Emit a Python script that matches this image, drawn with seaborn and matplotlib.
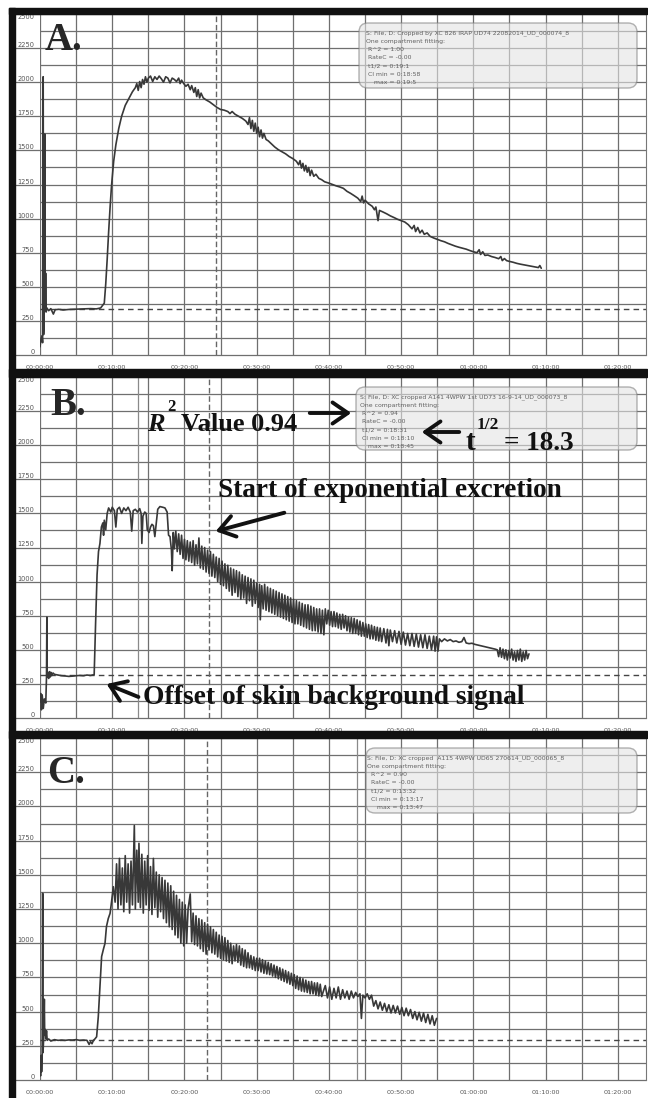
import numpy as np
import matplotlib
matplotlib.use("Agg")
import matplotlib.pyplot as plt
from matplotlib.patches import Rectangle, FancyBboxPatch, FancyArrowPatch
import seaborn as sns

# ---- data (minutes, signal) ----
a_time = [0.00, 0.15, 0.28, 0.36, 0.44, 0.50, 0.58, 0.66, 0.72, 0.78, 0.85, 0.95, 1.20, 1.50, 1.85, 2.10, 2.60,
          3.20, 4.00, 5.00, 6.00, 7.00, 7.80, 8.40, 8.90, 9.10, 9.30, 9.50, 9.70, 9.90, 10.20, 10.50, 10.90,
          11.30, 11.80, 12.30, 12.80, 13.20, 13.40, 13.60, 13.80, 14.00, 14.20, 14.40, 14.60, 14.80, 15.00,
          15.30, 15.60, 15.90, 16.20, 16.50, 16.80, 17.10, 17.40, 17.70, 18.00, 18.30, 18.60, 18.90, 19.20,
          19.40, 19.60, 19.90, 20.20, 20.50, 20.80, 21.00, 21.30, 21.50, 21.70, 21.90, 22.10, 22.30, 22.60,
          23.00, 23.50, 24.00, 24.50, 25.00, 25.50, 26.00, 26.30, 26.60, 27.00, 27.50, 28.00, 28.50, 28.80,
          29.00, 29.20, 29.40, 29.60, 29.80, 30.00, 30.20, 30.40, 30.60, 30.80, 31.00, 31.30, 31.60, 32.00,
          32.50, 33.00, 33.50, 34.00, 34.50, 35.00, 35.50, 35.80, 36.00, 36.20, 36.40, 36.60, 36.80, 37.00,
          37.20, 37.40, 37.60, 37.90, 38.20, 38.60, 39.00, 39.40, 40.00, 40.50, 41.00, 41.50, 42.00, 42.50,
          43.00, 43.50, 44.00, 44.40, 44.60, 44.80, 45.00, 45.50, 46.00, 46.30, 46.50, 46.80, 47.00, 47.50,
          48.00, 48.50, 49.00, 49.50, 50.00, 50.50, 51.00, 51.50, 51.80, 52.00, 52.30, 52.60, 52.90, 53.20,
          53.60, 54.00, 54.50, 55.00, 55.50, 56.00, 56.50, 57.00, 57.50, 58.00, 58.50, 59.00, 59.50, 60.00,
          60.50, 60.80, 61.00, 61.30, 61.60, 62.00, 62.50, 63.00, 63.50, 63.80, 64.00, 64.30, 64.60, 65.00,
          65.50, 66.00, 66.50, 67.00, 67.50, 68.00, 68.50, 69.00, 69.20, 69.40]
a_signal = [60, 120, 140, 90, 2040, 150, 310, 1620, 330, 600, 315, 345, 325, 340, 300, 332, 335,
            330, 334, 336, 338, 340, 338, 345, 380, 520, 700, 900, 1080, 1240, 1420, 1540, 1660,
            1750, 1830, 1880, 1930, 1960, 1990, 1940, 2005, 1960, 2020, 1985, 2040, 2000, 2030,
            2045, 2005, 2040, 2020, 2045, 2025, 2000, 2040, 2030, 1995, 2030, 2020, 2005, 2030,
            1990, 2015, 1990, 1970, 1985, 1945, 1975, 1925, 1960, 1895, 1945, 1885, 1920, 1885,
            1870, 1855, 1835, 1815, 1800, 1795, 1785, 1770, 1785, 1765, 1750, 1735, 1715, 1690,
            1740, 1660, 1720, 1640, 1700, 1625, 1670, 1600, 1650, 1590, 1625, 1580, 1570, 1550,
            1525, 1505, 1490, 1475, 1455, 1440, 1420, 1395, 1425, 1370, 1405, 1350, 1390, 1340,
            1375, 1315, 1355, 1310, 1325, 1295, 1285, 1270, 1260, 1250, 1240, 1232, 1222, 1200,
            1185, 1168, 1150, 1125, 1165, 1115, 1135, 1108, 1090, 1065, 1085, 985, 1060, 1048,
            1035, 1020, 1008, 995, 985, 975, 955, 925, 950, 905, 935, 895, 915, 885,
            895, 870, 858, 848, 838, 830, 818, 808, 798, 790, 783, 776, 766, 757,
            750, 772, 737, 757, 730, 733, 722, 715, 706, 722, 692, 707, 692, 686,
            680, 672, 666, 661, 656, 651, 646, 641, 656, 636]

b_time = [0.00, 0.10, 0.20, 0.30, 0.45, 0.60, 0.80, 0.90, 0.95, 1.00, 1.10, 1.20, 1.30, 1.40, 1.50, 1.60,
          1.80, 2.00, 2.50, 3.00, 3.50, 4.00, 4.50, 5.00, 5.50, 6.00, 6.50, 7.00, 7.50, 7.70, 7.90, 8.10,
          8.30, 8.50, 8.70, 8.80, 8.90, 9.10, 9.30, 9.50, 9.80, 10.00, 10.30, 10.50, 10.70, 11.00, 11.30,
          11.60, 11.90, 12.20, 12.50, 12.70, 12.90, 13.20, 13.50, 13.80, 14.00, 14.10, 14.25, 14.50, 14.70,
          14.85, 15.10, 15.30, 15.50, 15.70, 15.90, 16.10, 16.30, 16.60, 17.00, 17.30, 17.60, 17.80,
          18.00, 18.20, 18.30, 18.45, 18.60, 18.80,
          19.00, 19.20, 19.40, 19.60, 19.80, 20.00, 20.20, 20.40, 20.60, 20.80, 21.00, 21.20, 21.40, 21.60,
          21.80, 22.00, 22.20, 22.40, 22.60, 22.80, 23.00, 23.20, 23.40, 23.60, 23.80, 24.00, 24.20, 24.40,
          24.60, 24.80, 25.00, 25.20, 25.40, 25.60, 25.80, 26.00, 26.20, 26.40, 26.60, 26.80, 27.00, 27.20,
          27.40, 27.60, 27.80, 28.00, 28.20, 28.40, 28.60, 28.80, 29.00, 29.20, 29.40, 29.60, 29.80, 30.00,
          30.20, 30.40, 30.50, 30.70, 30.90, 31.10, 31.30, 31.50, 31.70, 31.90, 32.10, 32.30, 32.50, 32.70,
          32.90, 33.10, 33.30, 33.50, 33.70, 33.90, 34.10, 34.30, 34.50, 34.70, 34.90, 35.10, 35.30, 35.50,
          35.70, 35.90, 36.10, 36.30, 36.50, 36.70, 36.90, 37.10, 37.30, 37.50, 37.70, 37.90, 38.10, 38.30,
          38.50, 38.70, 38.90, 39.10, 39.30,
          39.50, 39.70, 39.90, 40.10, 40.30, 40.50, 40.70, 40.90, 41.10, 41.30, 41.50, 41.70, 41.90, 42.10,
          42.30, 42.50, 42.70, 42.90, 43.10, 43.30, 43.50, 43.70, 43.90, 44.10, 44.30, 44.50, 44.70, 44.90,
          45.10, 45.30, 45.50, 45.70, 45.90, 46.10, 46.30, 46.50, 46.70, 46.90, 47.10, 47.30,
          47.60, 47.90, 48.10, 48.30, 48.50, 48.80, 49.10, 49.40, 49.70, 50.00, 50.30, 50.60, 50.90, 51.20,
          51.50, 51.80, 52.10, 52.40, 52.70, 53.00, 53.30, 53.60, 53.90, 54.20, 54.50, 54.70, 54.90, 55.10,
          55.30,
          55.60, 56.00, 56.40, 56.80, 57.20, 57.60, 58.00, 58.40, 58.70, 59.00, 59.40, 59.80, 60.20, 60.60,
          61.00, 61.40, 61.80, 62.20, 62.60, 63.00, 63.30, 63.50, 63.70, 63.90, 64.10, 64.30, 64.50, 64.70,
          64.90, 65.10, 65.30, 65.50, 65.70, 65.90, 66.10, 66.30, 66.50, 66.70, 66.90, 67.10, 67.30, 67.50,
          67.70]
b_signal = [120, 180, 60, 170, 70, 140, 110, 300, 740, 300, 330, 290, 340, 300, 335, 310,
            330, 320, 315, 310, 308, 305, 307, 310, 312, 310, 315, 312, 318, 700, 1050, 1220,
            1280, 1400, 1430, 1340, 1450, 1380, 1500, 1540, 1510, 1545, 1520, 1400, 1530, 1545, 1500,
            1540, 1520, 1545, 1510, 1370, 1520, 1530, 1510, 1535, 1500, 1280, 1480, 1510, 1500,
            1380, 1360, 1400, 1420, 1410, 1330, 1430, 1530, 1550, 1545, 1540, 1510, 1340,
            1330, 1230, 1080, 1360, 1240, 1370,
            1220, 1350, 1200, 1340, 1170, 1310, 1160, 1300, 1150, 1290, 1140, 1300, 1120, 1270,
            1130, 1320, 1100, 1260, 1090, 1250, 1070, 1230, 1060, 1220, 1040, 1200, 1030, 1180,
            1000, 1170, 980, 1150, 970, 1130, 950, 1120, 930, 1100, 900, 1090, 920, 1080,
            890, 1070, 870, 1050, 880, 1040, 840, 1030, 860, 1020, 820, 1010, 840, 990,
            810, 980, 720, 970, 800, 980, 790, 960, 780, 950, 770, 940, 760, 930,
            750, 920, 740, 910, 730, 900, 720, 890, 710, 880, 700, 870, 690, 860,
            690, 850, 680, 840, 670, 830, 660, 830, 650, 820, 640, 810, 640, 800,
            630, 800, 620, 790, 610,
            800, 690, 790, 680, 780, 670, 780, 670, 770, 660, 760, 650, 760, 660,
            750, 640, 740, 630, 735, 620, 730, 620, 720, 610, 710, 600, 700, 600,
            690, 590, 685, 580, 680, 580, 670, 570, 665, 565, 660, 560,
            655, 550, 650, 530, 645, 560, 640, 550, 635, 540, 630, 535, 620, 530,
            620, 525, 615, 520, 610, 515, 610, 510, 600, 500, 600, 490, 595, 490,
            580,
            560, 580, 565, 575, 560, 565, 555, 560, 590, 550, 545, 548, 540, 535,
            530, 525, 520, 515, 510, 505, 500, 450, 515, 445, 505, 435, 500, 425,
            495, 440, 505, 425, 485, 415, 495, 425, 505, 415, 485, 425, 495, 435,
            470]

c_time = [0.00, 0.08, 0.15, 0.22, 0.30, 0.37, 0.42, 0.50, 0.60, 0.65, 0.70, 0.80, 0.90, 1.00, 1.20, 1.50,
          2.00, 2.50, 3.00, 3.50, 4.00, 4.50, 5.00, 5.50, 6.00, 6.50, 6.80, 7.00, 7.20, 7.40, 7.60, 7.84,
          8.07, 8.30, 8.53, 8.80, 9.00, 9.20, 9.45, 9.70, 9.90, 10.15, 10.40, 10.60, 10.80, 11.00, 11.20,
          11.40, 11.60, 11.80, 12.00, 12.20, 12.40, 12.60, 12.80, 12.90, 13.06, 13.20, 13.40, 13.60, 13.70,
          13.90, 14.10, 14.30, 14.50, 14.70, 14.90, 15.10, 15.30, 15.50, 15.70, 15.90, 16.10, 16.30, 16.50,
          16.70, 16.90, 17.10, 17.30, 17.50, 17.70, 17.90, 18.10, 18.30, 18.50, 18.70, 18.90, 19.10, 19.30,
          19.50, 19.70, 19.90, 20.10, 20.30, 20.50, 20.80, 21.00, 21.20, 21.40, 21.60, 21.80, 22.00, 22.20,
          22.40, 22.60, 22.80, 23.00, 23.20, 23.40, 23.60, 23.80, 24.00, 24.20, 24.40, 24.60, 24.80, 25.00,
          25.20, 25.40, 25.60, 25.80, 26.00, 26.20, 26.40, 26.60, 26.80, 27.00, 27.20, 27.40, 27.60, 27.80,
          28.00, 28.20, 28.40, 28.60, 28.80, 29.00, 29.20, 29.40, 29.60, 29.80, 30.00, 30.20, 30.40, 30.60,
          30.80, 31.00, 31.20, 31.40, 31.60, 31.80, 32.00, 32.20, 32.40, 32.60, 32.80, 33.00, 33.20, 33.40,
          33.60, 33.80, 34.00, 34.20, 34.40, 34.60, 34.80, 35.00, 35.20, 35.40, 35.60, 35.80, 36.00, 36.20,
          36.40, 36.60, 36.80, 37.00, 37.20, 37.40, 37.60, 37.80, 38.00, 38.20, 38.40, 38.60, 38.80, 39.00,
          39.30, 39.50, 39.80, 40.10, 40.40, 40.70, 41.00, 41.30, 41.60, 41.90, 42.20, 42.50, 42.80, 43.10,
          43.40, 43.70, 44.00, 44.30, 44.50, 44.70, 45.00, 45.30, 45.60, 45.90, 46.20, 46.50, 46.80, 47.10,
          47.40, 47.70, 48.00, 48.30, 48.60, 48.90, 49.20, 49.50, 49.80, 50.10, 50.40, 50.70, 51.00, 51.30,
          51.60, 51.90, 52.20, 52.50, 52.80, 53.10, 53.40, 53.70, 54.00, 54.30, 54.60, 54.90]
c_signal = [100, 30, 180, 60, 150, 1365, 200, 300, 590, 330, 370, 300, 360, 290, 300, 285,
            295, 290, 292, 290, 293, 292, 295, 290, 292, 290, 260, 280, 265, 290, 300, 316,
            463, 682, 902, 960, 999, 1121, 1180, 1218, 1300, 1413, 1300, 1580, 1250, 1620, 1280,
            1550, 1230, 1640, 1300, 1580, 1220, 1600, 1280, 1500, 1860, 1250, 1680, 1300, 1730,
            1260, 1650, 1220, 1600, 1280, 1640, 1240, 1560, 1210, 1620, 1260, 1520, 1190, 1500,
            1230, 1480, 1180, 1460, 1150, 1440, 1120, 1420, 1100, 1380, 1060, 1350, 1040, 1320,
            1000, 1300, 980, 1280, 1000, 1250, 1360, 1010, 1220, 990, 1200, 980, 1180, 960,
            1170, 940, 1150, 920, 1140, 950, 1120, 930, 1100, 920, 1080, 900, 1060, 890,
            1050, 880, 1040, 870, 1020, 860, 1000, 850, 980, 870, 990, 860, 980, 840,
            960, 830, 950, 820, 930, 820, 910, 810, 900, 800, 890, 800, 890, 790,
            880, 780, 870, 775, 860, 770, 850, 760, 840, 750, 830, 740, 820, 730,
            810, 720, 800, 710, 790, 700, 780, 690, 770, 670, 760, 660, 750, 650,
            740, 645, 730, 640, 720, 630, 720, 630, 710, 620, 710, 615, 700, 610,
            660, 690, 600, 680, 590, 670, 600, 680, 590, 660, 600, 650, 590, 650,
            600, 640, 610, 630, 450, 620, 600, 630, 590, 620, 540, 580, 520, 570,
            510, 560, 500, 550, 490, 545, 490, 540, 480, 530, 470, 525, 470, 515,
            450, 500, 440, 495, 430, 490, 420, 480, 410, 470, 400, 450]

offset_level = [338, 314, 292]      # dashed skin background line
fit_start = [24.4, 23.4, 23.1]      # dashed vertical line (start of fit)
extra_marks = [[], [13.5], [43.9]]  # extra vertical markers
panel_labels = ["A.", "B.", "C."]

x_ticks = [0, 10, 20, 30, 40, 50, 60, 70, 80]
x_tick_labels = ["00:00:00", "00:10:00", "00:20:00", "00:30:00", "00:40:00",
                 "00:50:00", "01:00:00", "01:10:00", "01:20:00"]
y_ticks = [0, 250, 500, 750, 1000, 1250, 1500, 1750, 2000, 2250, 2500]

box_lines = [
    ["S: File, D: Cropped by XC 826 IRAP UD74 22082014_UD_000074_8", "One compartment fitting:",
     " R^2 = 1.00", " RateC = -0.00", " t1/2 = 0:19:1", " CI min = 0:18:58", "    max = 0:19:5"],
    ["S: File, D: XC cropped A141 4WPW 1st UD73 16-9-14_UD_000073_8", "One compartment fitting:",
     " R^2 = 0.94", " RateC = -0.00", " t1/2 = 0:18:31", " CI min = 0:18:10", "    max = 0:18:45"],
    ["S: File, D: XC cropped  A115 4WPW UD65 270614_UD_000065_8", "One compartment fitting:",
     "  R^2 = 0.90", "  RateC = -0.00", "  t1/2 = 0:13:32", "  CI min = 0:13:17", "     max = 0:13:47"],
]

assert len(a_time) == len(a_signal)
assert len(b_time) == len(b_signal)
assert len(c_time) == len(c_signal)

sns.set_style("white")
plt.rcParams["font.family"] = ["DejaVu Sans"]

W, H = 648, 1098
SERIF = "Liberation Serif"


def fx(x):
    return x / W


def fy(y):
    return 1 - y / H


fig = plt.figure(figsize=(W / 100, H / 100), dpi=100)
fig.patch.set_facecolor("white")

panels = [(14, 355), (377, 718), (738, 1080)]
series = [(a_time, a_signal), (b_time, b_signal), (c_time, c_signal)]
boxes = [(359, 23, 637, 88), (356, 387, 637, 450), (366, 748, 637, 813)]
box_text_x = [366, 360, 367]
label_pos = [(45, 50), (50, 415), (47, 783)]
grid_c = "#6f6f6f"

for i, (top, bottom) in enumerate(panels):
    ax = fig.add_axes([fx(40), fy(bottom), fx(646) - fx(40), (bottom - top) / H])
    ax.set_xlim(0, 83.9)
    ax.set_ylim(0, 2500)

    # grid like the acquisition software
    for v in np.arange(0, 2501, 125):
        if v % 250 == 0:
            ax.axhline(v, xmin=-0.041, xmax=1, color=grid_c, lw=0.9, clip_on=False, zorder=1)
        else:
            ax.axhline(v, color=grid_c, lw=0.9, zorder=1)
    for m in np.arange(0, 81, 5):
        ax.axvline(m, color=grid_c, lw=0.9, zorder=1)
    for m in extra_marks[i]:
        ax.axvline(m, color="#8a8a8a", lw=0.9, zorder=1)

    ax.axhline(offset_level[i], color="#444444", lw=1.0, ls=(0, (4, 3)), zorder=2)
    ax.axvline(fit_start[i], color="#666666", lw=1.0, ls=(0, (4, 2)), zorder=2)

    t, s = series[i]
    sns.lineplot(x=t, y=s, ax=ax, color="#383838", linewidth=1.2,
                 estimator=None, sort=False, zorder=3)

    ax.set_xticks(x_ticks)
    ax.set_xticklabels(x_tick_labels, fontsize=4.6, color="#555555")
    ax.set_yticks(y_ticks)
    ax.set_yticklabels([str(v) for v in y_ticks], fontsize=4.8, color="#555555")
    for lab in ax.get_yticklabels():
        lab.set_va("bottom")
    ax.get_yticklabels()[-1].set_va("top")
    ax.tick_params(axis="x", length=0, pad=7)
    ax.tick_params(axis="y", length=0, pad=4)
    ax.set_xlabel("")
    ax.set_ylabel("")
    for side in ["top", "left", "bottom"]:
        ax.spines[side].set_visible(False)
    ax.spines["right"].set_color("#777777")
    ax.spines["right"].set_linewidth(0.8)

    # panel letter
    lx, ly = label_pos[i]
    fig.text(fx(lx), fy(ly), panel_labels[i], family=SERIF, weight="bold",
             fontsize=28, va="baseline", ha="left", zorder=6)

    # fitting result box
    x0, y0, x1, y1 = boxes[i]
    box = FancyBboxPatch((x0 / 100, (H - y1) / 100), (x1 - x0) / 100, (y1 - y0) / 100,
                         boxstyle="round,pad=0,rounding_size=0.09",
                         transform=fig.dpi_scale_trans, facecolor="#e4e4e4",
                         edgecolor="#808080", lw=1.0, alpha=0.6, zorder=5)
    fig.patches.append(box)
    for k, line in enumerate(box_lines[i]):
        fig.text(fx(box_text_x[i]), fy(y0 + 10 + k * 8.3), line, fontsize=4.4,
                 color="#606060", va="center", ha="left", zorder=6)

# black frame and separators
frame = [(9, 8, 647, 14), (9, 8, 15, 1098), (9, 369, 647, 377), (9, 731, 647, 738)]
for x0, y0, x1, y1 in frame:
    fig.patches.append(Rectangle((fx(x0), fy(y1)), fx(x1) - fx(x0), (y1 - y0) / H,
                                 transform=fig.transFigure, color="#111111", zorder=10))

# annotations on panel B
bold = dict(family=SERIF, weight="bold", color="#111111", va="baseline", ha="left", zorder=7)
fig.text(fx(147), fy(431), "R", fontsize=19, style="italic", **bold)
fig.text(fx(167), fy(411), "2", fontsize=12, **bold)
fig.text(fx(181), fy(431), "Value 0.94", fontsize=19, **bold)
fig.text(fx(465), fy(450), "t", fontsize=21, **bold)
fig.text(fx(477), fy(429), "1/2", fontsize=12.5, **bold)
fig.text(fx(504), fy(450), "= 18.3", fontsize=19.5, **bold)
fig.text(fx(218), fy(497), "Start of exponential excretion", fontsize=19.6, **bold)
fig.text(fx(143), fy(704), "Offset of skin background signal", fontsize=19.8, **bold)

arrows = [((307, 413), (354, 413)), ((462, 432), (419, 432)),
          ((287, 512), (213, 532)), ((141, 698), (104, 683))]
for (tx, ty), (hx, hy) in arrows:
    fig.add_artist(FancyArrowPatch(
        (fx(tx), fy(ty)), (fx(hx), fy(hy)), transform=fig.transFigure,
        arrowstyle="->,head_length=0.55,head_width=0.38", mutation_scale=20,
        lw=2.8, color="#111111", zorder=8))

fig.savefig("out.png", dpi=100)
